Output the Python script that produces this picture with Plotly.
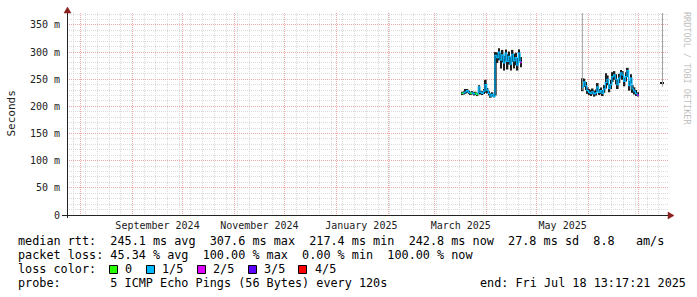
import plotly.graph_objects as go
import pandas as pd

# ---------------- data ----------------
x_start = "2024-07-23 20:00"
x_end = "2025-07-18 13:17"
month_grid_start = "2024-08-01"
week_grid_start = "2024-07-28"
month_labels = ["September 2024", "November 2024", "January 2025", "March 2025", "May 2025"]
month_label_dates = ["2024-09-16", "2024-11-16", "2025-01-16", "2025-03-16 12:00", "2025-05-16 12:00"]
y_tick_vals_ms = [0, 50, 100, 150, 200, 250, 300, 350]
y_tick_text = ["0", "50 m", "100 m", "150 m", "200 m", "250 m", "300 m", "350 m"]
y_max_ms = 372

seg1_start = "2025-03-17"
seg1_median_ms = [224, 225, 227, 229, 226, 224, 225, 223, 224, 222, 236, 226, 224, 228, 240, 230, 224, 219,
                  222, 218, 294, 290, 300, 285, 295, 280, 298, 283, 292, 278, 296, 284, 290, 276, 298, 281]
seg1_low_ms = [221, 222, 223, 225, 223, 221, 222, 220, 221, 219, 224, 222, 221, 223, 225, 224, 220, 216,
               218, 217, 220, 280, 285, 270, 281, 266, 283, 268, 277, 266, 282, 270, 276, 266, 283, 272]
seg1_high_ms = [227, 228, 232, 232, 229, 227, 228, 226, 227, 225, 239, 229, 228, 232, 249, 234, 228, 224,
                226, 221, 300, 299, 307, 298, 304, 293, 305, 296, 301, 291, 304, 297, 299, 289, 305, 291]
seg1_loss = [0, 1, 1, 1, 1, 0, 1, 1, 0, 0, 1, 1, 1, 1, 1, 1, 1, 1,
             1, 1, 1, 1, 1, 1, 1, 1, 1, 1, 1, 1, 1, 1, 1, 1, 1, 2]

seg2_start = "2025-05-28"
seg2_median_ms = [236, 245, 238, 229, 226, 224, 227, 223, 225, 236, 226, 229, 224, 232, 244, 250, 233,
                  240, 255, 258, 250, 240, 252, 262, 258, 246, 255, 266, 238, 252, 232, 228, 224, 221]
seg2_low_ms = [228, 236, 230, 223, 221, 219, 222, 218, 220, 227, 221, 223, 219, 225, 233, 239, 226,
               232, 245, 249, 241, 232, 243, 252, 249, 237, 246, 254, 229, 242, 225, 222, 219, 218]
seg2_high_ms = [252, 251, 245, 235, 232, 230, 233, 229, 231, 243, 232, 235, 230, 239, 261, 257, 241,
                249, 263, 265, 259, 249, 260, 267, 265, 253, 263, 271, 247, 259, 239, 235, 230, 226]
seg2_loss = [1, 1, 1, 1, 1, 1, 1, 1, 1, 1, 1, 1, 1, 1, 1, 1, 1,
             1, 1, 1, 1, 1, 1, 1, 1, 1, 1, 1, 1, 1, 1, 1, 1, 2]

tail_dates = ["2025-07-14", "2025-07-15"]
tail_low_ms = [241.5, 241.5]
tail_high_ms = [244.5, 244.5]

spike_dates = ["2025-05-28 07:00", "2025-07-15 06:00"]
spike_low_ms = [230, 236]
spike_high_ms = [1000, 1000]

loss_keys = [0, 1, 2, 3, 4]
loss_labels = ["0", "1/5", "2/5", "3/5", "4/5"]
loss_colors = ["#26ff00", "#00b8ff", "#dd00ff", "#5e00ff", "#ff0000"]

stats_line1 = "median rtt:  245.1 ms avg  307.6 ms max  217.4 ms min  242.8 ms now  27.8 ms sd  8.8   am/s"
stats_line2 = "packet loss: 45.34 % avg  100.00 % max  0.00 % min  100.00 % now"
stats_line3 = "loss color:"
stats_line4 = "probe:       5 ICMP Echo Pings (56 Bytes) every 120s"
end_text = "end: Fri Jul 18 13:17:21 2025"
y_title = "Seconds"
watermark = "RRDTOOL / TOBI OETIKER"

# ---------------- styles ----------------
MONO = "DejaVu Sans Mono"
SMOKE = "#1e1e1e"
SPIKE = "#a0a0a0"
MAJOR = "#f0a8a8"
MINOR = "#dadada"
AXIS = "#222222"
ARROW = "#8a2020"
DAY_MS = 86400000

W, H = 697, 297
L, R, T, B = 67, 668, 13, 215


def px(x):
    return (x - L) / (R - L)


def py(y):
    return (B - y) / (B - T)


def nb(s):
    return s.replace(" ", "\u00a0")


fig = go.Figure()

segments = [
    (seg1_start, seg1_median_ms, seg1_low_ms, seg1_high_ms, seg1_loss),
    (seg2_start, seg2_median_ms, seg2_low_ms, seg2_high_ms, seg2_loss),
]

# smoke bars
for start, med, lo, hi, loss in segments:
    starts = [pd.Timestamp(start) + pd.Timedelta(days=i) for i in range(len(med))]
    centers = [s + pd.Timedelta(hours=12) for s in starts]
    fig.add_trace(go.Bar(x=centers, y=[(h - l) / 1000 for l, h in zip(lo, hi)],
                         base=[l / 1000 for l in lo], width=DAY_MS,
                         marker=dict(color=SMOKE, line=dict(width=0)), hoverinfo="skip"))

tail_centers = [pd.Timestamp(d) + pd.Timedelta(hours=12) for d in tail_dates]
fig.add_trace(go.Bar(x=tail_centers, y=[(h - l) / 1000 for l, h in zip(tail_low_ms, tail_high_ms)],
                     base=[l / 1000 for l in tail_low_ms], width=DAY_MS,
                     marker=dict(color=SMOKE, line=dict(width=0)), hoverinfo="skip"))

# grey outlier smoke spikes
sx, sy = [], []
for d, l, h in zip(spike_dates, spike_low_ms, spike_high_ms):
    sx += [pd.Timestamp(d), pd.Timestamp(d), None]
    sy += [l / 1000, h / 1000, None]
fig.add_trace(go.Scatter(x=sx, y=sy, mode="lines", line=dict(color=SPIKE, width=1), hoverinfo="skip"))

# median lines coloured by loss
for start, med, lo, hi, loss in segments:
    starts = [pd.Timestamp(start) + pd.Timedelta(days=i) for i in range(len(med))]
    xs = starts + [starts[-1] + pd.Timedelta(days=1)]
    ys = [m / 1000 for m in med] + [med[-1] / 1000]
    fig.add_trace(go.Scatter(x=xs, y=ys, mode="lines", line=dict(color=loss_colors[1], width=1.2, shape="hv"),
                             hoverinfo="skip"))
    for k, col in zip(loss_keys, loss_colors):
        if k == 1:
            continue
        ox, oy = [], []
        for s, m, ls in zip(starts, med, loss):
            if ls == k:
                ox += [s, s + pd.Timedelta(days=1), None]
                oy += [m / 1000, m / 1000, None]
        if ox:
            fig.add_trace(go.Scatter(x=ox, y=oy, mode="lines", line=dict(color=col, width=1.5),
                                     hoverinfo="skip"))

# invisible trace to activate label axis
fig.add_trace(go.Scatter(x=[pd.Timestamp(x_start), pd.Timestamp(x_end)], y=[None, None], xaxis="x2",
                         mode="lines", hoverinfo="skip", showlegend=False))

fig.update_layout(
    width=W, height=H, autosize=False,
    margin=dict(l=L, r=W - R, t=T, b=H - B, pad=0),
    paper_bgcolor="white", plot_bgcolor="white",
    showlegend=False, barmode="overlay",
    font=dict(family=MONO, size=10, color="#222222"),
    xaxis=dict(type="date", range=[x_start, x_end], tick0=month_grid_start, dtick="M1",
               showticklabels=False, ticks="", showgrid=True, gridcolor=MAJOR, griddash="1px,1px",
               gridwidth=1, zeroline=False, showline=False,
               minor=dict(tick0=week_grid_start, dtick=7 * DAY_MS, showgrid=True, gridcolor=MINOR,
                          griddash="1px,1px", gridwidth=1, ticks="")),
    xaxis2=dict(type="date", range=[x_start, x_end], overlaying="x", anchor="y", side="bottom",
                tickmode="array", tickvals=month_label_dates, ticktext=month_labels,
                showgrid=False, zeroline=False, showline=False, ticks="", ticklabelstandoff=3,
                tickfont=dict(family=MONO, size=10, color="#222222")),
    yaxis=dict(range=[0, y_max_ms / 1000], tickmode="array", tickvals=[v / 1000 for v in y_tick_vals_ms],
               ticktext=y_tick_text, showgrid=True, gridcolor=MAJOR, griddash="1px,1px", gridwidth=1,
               zeroline=False, showline=False, ticks="", ticklabelstandoff=6,
               tickfont=dict(family=MONO, size=10, color="#222222"),
               minor=dict(dtick=0.01, showgrid=True, gridcolor=MINOR, griddash="1px,1px", gridwidth=1,
                          ticks="")),
)

shapes = []
# axis lines
shapes.append(dict(type="line", xref="paper", yref="paper", x0=px(62), x1=px(669), y0=py(B + 0.5), y1=py(B + 0.5),
                   line=dict(color=AXIS, width=1), layer="above"))
shapes.append(dict(type="line", xref="paper", yref="paper", x0=px(L + 0.5), x1=px(L + 0.5), y0=py(218), y1=py(12),
                   line=dict(color=AXIS, width=1), layer="above"))
# arrows
shapes.append(dict(type="path", xref="paper", yref="paper",
                   path=f"M {px(674)},{py(B + 0.5)} L {px(668)},{py(212)} L {px(668)},{py(219)} Z",
                   fillcolor=ARROW, line=dict(color=ARROW, width=0.5), layer="above"))
shapes.append(dict(type="path", xref="paper", yref="paper",
                   path=f"M {px(L + 0.5)},{py(7)} L {px(64)},{py(13)} L {px(71)},{py(13)} Z",
                   fillcolor=ARROW, line=dict(color=ARROW, width=0.5), layer="above"))

# legend boxes
box_left = [109, 146, 197, 248, 298]
label_left = [123, 160, 211, 261.7, 312.7]
for bl, col in zip(box_left, loss_colors):
    shapes.append(dict(type="rect", xref="paper", yref="paper", x0=px(bl + 0.5), x1=px(bl + 8.5),
                       y0=py(273.5), y1=py(265.5), fillcolor=col, line=dict(color="black", width=1)))
fig.update_layout(shapes=shapes)

ann = []
line_y = [241.5, 255.3, 269.3, 283.3]
for txt, yy in zip([stats_line1, stats_line2, stats_line3, stats_line4], line_y):
    ann.append(dict(text=nb(txt), x=px(16), y=py(yy), xref="paper", yref="paper", xanchor="left",
                    yanchor="middle", showarrow=False, font=dict(family=MONO, size=11.8, color="black")))
for lab, ll in zip(loss_labels, label_left):
    ann.append(dict(text=lab, x=px(ll), y=py(line_y[2]), xref="paper", yref="paper", xanchor="left",
                    yanchor="middle", showarrow=False, font=dict(family=MONO, size=11.8, color="black")))
ann.append(dict(text=nb(end_text), x=px(478), y=py(line_y[3]), xref="paper", yref="paper", xanchor="left",
                yanchor="middle", showarrow=False, font=dict(family=MONO, size=11.8, color="black")))
ann.append(dict(text=y_title, x=px(11), y=py(113.5), xref="paper", yref="paper", xanchor="center",
                yanchor="middle", textangle=-90, showarrow=False, font=dict(family=MONO, size=11, color="#222222")))
ann.append(dict(text=nb(watermark), x=px(687), y=py(68), xref="paper", yref="paper", xanchor="center",
                yanchor="middle", textangle=90, showarrow=False, font=dict(family=MONO, size=8.5, color="#c0c0c0")))
fig.update_layout(annotations=ann)

fig.write_html("out.html")
